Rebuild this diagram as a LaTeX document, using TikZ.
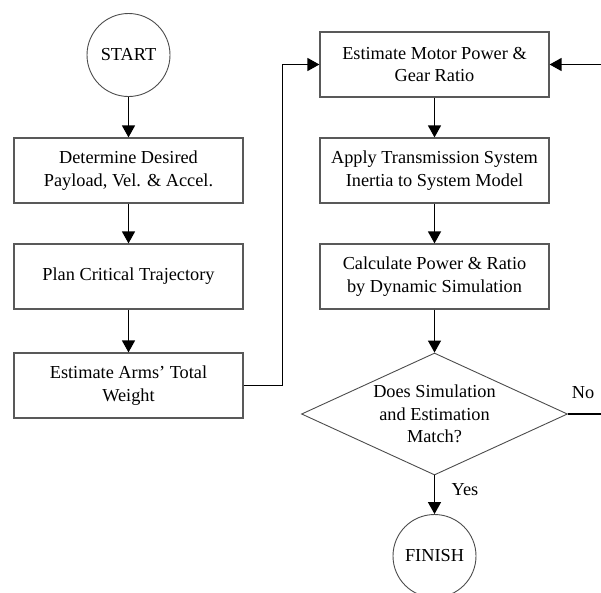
\documentclass[tikz,border=0pt]{standalone}
\usepackage{fontspec}
\setmainfont{Liberation Serif}
\usetikzlibrary{shapes.geometric,arrows.meta}

\begin{document}
\begin{tikzpicture}[x=1pt, y=-1pt, thick,
  font=\fontsize{18.3}{22.5}\selectfont,
  blk/.style={draw=black!65, line width=1.2pt, minimum width=229pt, minimum height=65pt, align=center, inner sep=0pt},
  term/.style={draw=black!70, line width=0.9pt, circle, minimum size=83pt, inner sep=0pt},
  decide/.style={draw=black!70, line width=0.9pt, diamond, shape aspect=2.18, minimum width=266pt, minimum height=122pt, inner sep=0pt, align=center},
  flow/.style={line width=1.4pt, -{Triangle[length=12pt,width=13pt]}}]
  \clip (0,0) rectangle (601,592);
  % left column
  \node[term] (start) at (128.5,55) {START};
  \node[blk] (payload) at (128.5,170.5) {Determine Desired\\Payload, Vel. \& Accel.};
  \node[blk] (traj) at (128.5,276.5) {Plan Critical Trajectory};
  \node[blk] (arms) at (128.5,385.5) {Estimate Arms’ Total\\Weight};
  % right column
  \node[blk] (motor) at (434.5,64.5) {Estimate Motor Power \&\\Gear Ratio};
  \node[blk] (inertia) at (434.5,170.5) {Apply Transmission System\\Inertia to System Model};
  \node[blk] (calc) at (434.5,276.5) {Calculate Power \& Ratio\\by Dynamic Simulation};
  \node[decide] (check) at (434.5,414) {Does Simulation\\and Estimation\\Match?};
  \node[term] (finish) at (434.5,556) {FINISH};
  \node (no) at (583,393) {No};
  \node (yes) at (465,490) {Yes};
  \coordinate (loop) at (606,414);

  \draw[flow] (start) -- (payload);
  \draw[flow] (payload) -- (traj);
  \draw[flow] (traj) -- (arms);
  \draw[flow] (arms.east) -- ++(39,0) |- (motor.west);
  \draw[flow] (motor) -- (inertia);
  \draw[flow] (inertia) -- (calc);
  \draw[flow] (calc) -- (check);
  \draw[flow] (check) -- (finish);
  \draw[flow] (check.east) -- (loop) |- (motor.east);
\end{tikzpicture}
\end{document}
